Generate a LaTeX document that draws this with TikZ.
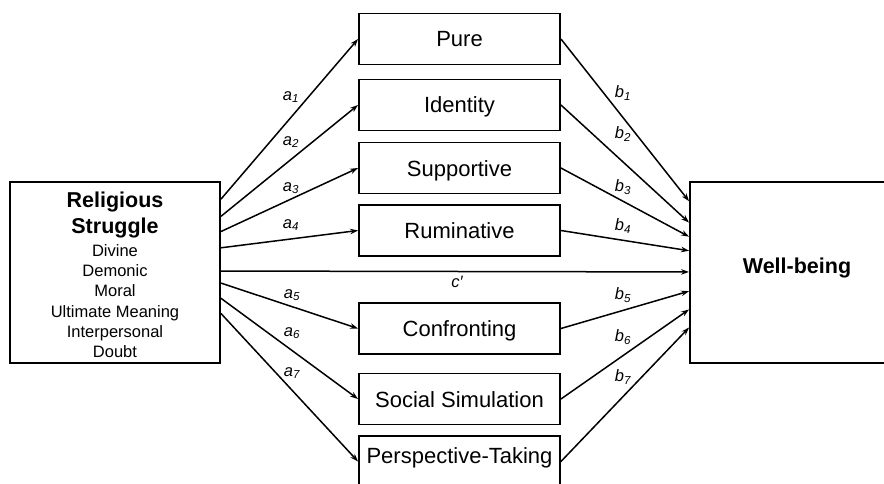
\documentclass[tikz,border=0pt]{standalone}
\usepackage{fontspec}
\setmainfont{Liberation Sans}
\usetikzlibrary{arrows.meta,calc}
\tikzset{
  frame/.style={draw, line width=1.9pt, inner sep=0pt},
  mbox/.style={frame, minimum width=201pt, minimum height=51pt,
    text height=16pt, text depth=0pt, font=\fontsize{22}{26}\selectfont},
  eff/.style={line width=1.5pt, -{Stealth[length=8pt,width=5.5pt]}},
  coef/.style={inner sep=0pt, font=\fontsize{16.5}{18}\selectfont\itshape},
}
\begin{document}
\begin{tikzpicture}[x=1pt,y=-1pt]
\useasboundingbox (0,0) rectangle (884,484);
\clip (0,0) rectangle (884,484);
% predictor
\node[frame, minimum width=210pt, minimum height=181pt] (rs) at (115,272.5) {};
\node[inner sep=0pt, align=center, font=\fontsize{21.5}{26}\selectfont\bfseries] (rstitle) at (115,214.5) {Religious\\Struggle};
\node[inner sep=0pt, align=center, font=\fontsize{16.5}{20.3}\selectfont] (rslist) at (115,301)
  {Divine\\Demonic\\Moral\\Ultimate Meaning\\Interpersonal\\Doubt};
% outcome
\node[frame, minimum width=214pt, minimum height=181pt] (wb) at (797,272.5) {};
\node[inner sep=0pt, font=\fontsize{21.5}{26}\selectfont\bfseries] (wbtext) at (797,268) {Well-being};
% mediators
\node[mbox] (pure) at (459.5,39) {Pure};
\node[mbox] (ident) at (459.5,105) {Identity};
\node[mbox] (supp) at (459.5,168) {Supportive};
\node[mbox] (rum) at (459.5,230.5) {Ruminative};
\node[mbox] (conf) at (459.5,328.5) {Confronting};
\node[mbox] (soc) at (459.5,399) {Social Simulation};
\node[mbox, text depth=13pt] (pers) at (459.5,461.5) {Perspective-Taking};
% a paths
\draw[eff] ($(rs.north east)!.099!(rs.south east)$) -- (pure.west);
\draw[eff] ($(rs.north east)!.193!(rs.south east)$) -- (ident.west);
\draw[eff] ($(rs.north east)!.276!(rs.south east)$) -- (supp.west);
\draw[eff] ($(rs.north east)!.365!(rs.south east)$) -- (rum.west);
\draw[eff] ($(rs.north east)!.558!(rs.south east)$) -- (conf.west);
\draw[eff] ($(rs.north east)!.641!(rs.south east)$) -- (soc.west);
\draw[eff] ($(rs.north east)!.724!(rs.south east)$) -- (pers.west);
% b paths
\draw[eff] (pure.east) -- ($(wb.north west)!.110!(wb.south west)$);
\draw[eff] (ident.east) -- ($(wb.north west)!.227!(wb.south west)$);
\draw[eff] (supp.east) -- ($(wb.north west)!.304!(wb.south west)$);
\draw[eff] (rum.east) -- ($(wb.north west)!.381!(wb.south west)$);
\draw[eff] (conf.east) -- ($(wb.north west)!.602!(wb.south west)$);
\draw[eff] (soc.east) -- ($(wb.north west)!.702!(wb.south west)$);
\draw[eff] (pers.east) -- ($(wb.north west)!.801!(wb.south west)$);
% direct path
\draw[eff] ($(rs.north east)!.492!(rs.south east)$) -- ($(wb.north west)!.497!(wb.south west)$);
% coefficients
\node[coef] (a1) at (291,97) {a\textsubscript{1}};
\node[coef] (a2) at (291,142) {a\textsubscript{2}};
\node[coef] (a3) at (291,188) {a\textsubscript{3}};
\node[coef] (a4) at (291,225) {a\textsubscript{4}};
\node[coef] (a5) at (292,295) {a\textsubscript{5}};
\node[coef] (a6) at (292,333) {a\textsubscript{6}};
\node[coef] (a7) at (292,373) {a\textsubscript{7}};
\node[coef] (b1) at (623,93) {b\textsubscript{1}};
\node[coef] (b2) at (623,134) {b\textsubscript{2}};
\node[coef] (b3) at (623,187) {b\textsubscript{3}};
\node[coef] (b4) at (623,226) {b\textsubscript{4}};
\node[coef] (b5) at (623,295) {b\textsubscript{5}};
\node[coef] (b6) at (623,337) {b\textsubscript{6}};
\node[coef] (b7) at (623,377) {b\textsubscript{7}};
\node[coef] (cp) at (457,282) {c′};
\end{tikzpicture}
\end{document}
